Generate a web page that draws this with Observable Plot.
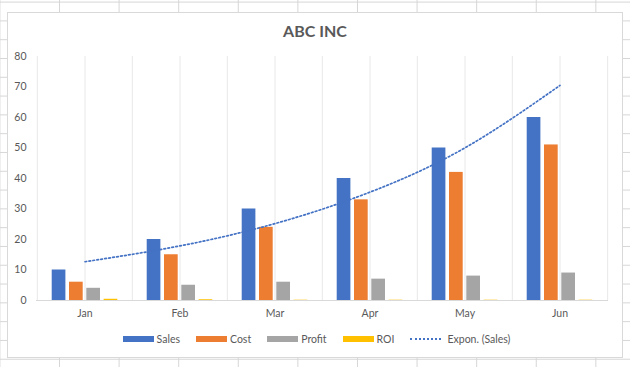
<!DOCTYPE html>
<html>
<head>
<meta charset="utf-8">
<script src="https://cdn.jsdelivr.net/npm/d3@7"></script>
<script src="https://cdn.jsdelivr.net/npm/@observablehq/plot@0.6"></script>
<style>
  html, body { margin: 0; padding: 0; background: #fff; }
  #sheet {
    position: relative; width: 630px; height: 367px; overflow: hidden;
    background-color: #fff;
    background-image:
      linear-gradient(to right, #d6d6d6 1px, transparent 1px),
      linear-gradient(to bottom, #d6d6d6 1px, transparent 1px);
    background-size: 59.6px 18.8px;
    background-position: 59px 1.6px;
    font-family: Lato, "Open Sans", sans-serif;
  }
  #box {
    position: absolute; left: 7px; top: 12px; width: 614px; height: 344px;
    border: 1px solid #d9d9d9; background: #fff;
  }
  #title {
    position: absolute; left: 0; top: 21px; width: 630px; text-align: center;
    font: bold 16px Lato, sans-serif; color: #595959;
  }
  #chart { position: absolute; left: 0; top: 40px; }
  #legend {
    position: absolute; left: 0; top: 333px; width: 630px;
    display: flex; justify-content: center; align-items: center;
    font: 10.5px Lato, sans-serif; color: #595959; padding-left: 3px; box-sizing: border-box;
  }
  .item { display: flex; align-items: center; margin-right: 16px; }
  .item:last-child { margin-right: 0; }
  .sw { width: 31px; height: 6px; margin-right: 3px; }
  .dot { width: 31px; height: 0; border-top: 2px dotted #4472C4; margin-right: 6px; }
</style>
</head>
<body>
<div id="sheet">
  <div id="box"></div>
  <div id="title">ABC INC</div>
  <div id="chart"></div>
  <div id="legend"></div>
</div>
<script>
const months = ["Jan", "Feb", "Mar", "Apr", "May", "Jun"];
const sales  = [10, 20, 30, 40, 50, 60];
const cost   = [6, 15, 24, 33, 42, 51];
const profit = [4, 5, 6, 7, 8, 9];
const roi    = [0.4, 0.25, 0.1, 0.1, 0.1, 0.1];
const seriesNames  = ["Sales", "Cost", "Profit", "ROI"];
const seriesColors = ["#4472C4", "#ED7D31", "#A5A5A5", "#FFC000"];
const yTicks = [0, 10, 20, 30, 40, 50, 60, 70, 80];
const trendName = "Expon. (Sales)";

const seriesValues = [sales, cost, profit, roi];
const table = [];
seriesNames.forEach((s, si) => months.forEach((m, i) => table.push({series: s, month: m, value: seriesValues[si][i]})));

// exponential trendline fitted to Sales (least squares on ln y)
const xs = months.map((_, i) => i + 1);
const ly = sales.map(v => Math.log(v));
const mx = d3.mean(xs), my = d3.mean(ly);
const b = d3.sum(xs, (x, i) => (x - mx) * (ly[i] - my)) / d3.sum(xs, x => (x - mx) ** 2);
const a = my - b * mx;
const trend = months.map((m, i) => ({month: m, value: Math.exp(a + b * xs[i])}));

const W = 630, H = 290, mL = 36, mR = 22, mT = 16, mB = 30;
const bw = (W - mL - mR) / months.length;
const sub = d3.scaleBand().domain(seriesNames).range([0, bw]).paddingInner(0.19).paddingOuter(0.85);

const grid = "#e8e8e8";
const marks = [
  Plot.ruleX(months, {x: d => d, dx: -bw / 2, y1: 0, y2: 80, stroke: grid}),
  Plot.ruleX([months[months.length - 1]], {x: d => d, dx: bw / 2, y1: 0, y2: 80, stroke: grid}),
  Plot.ruleX(months, {x: d => d, y1: 0, y2: 80, stroke: grid}),
];
seriesNames.forEach((s, si) => {
  marks.push(Plot.barY(table.filter(d => d.series === s), {
    x: "month", y: "value", fill: seriesColors[si],
    insetLeft: sub(s), insetRight: bw - sub(s) - sub.bandwidth()
  }));
});
marks.push(Plot.ruleY([0], {stroke: "#d9d9d9"}));
marks.push(Plot.line(trend, {x: "month", y: "value", curve: "natural", stroke: "#4472C4", strokeWidth: 1.7, strokeDasharray: "1.7,2.3"}));

const chart = Plot.plot({
  width: W, height: H,
  marginLeft: mL, marginRight: mR, marginTop: mT, marginBottom: mB,
  style: {fontFamily: "Lato, sans-serif", fontSize: "10.5px", color: "#595959", background: "transparent", overflow: "visible"},
  x: {type: "band", domain: months, padding: 0, label: null, tickSize: 0, tickPadding: 9},
  y: {domain: [0, 80], ticks: yTicks, label: null, tickSize: 0, tickPadding: 10},
  marks
});
document.getElementById("chart").appendChild(chart);

const legend = document.getElementById("legend");
seriesNames.forEach((s, i) => {
  const it = document.createElement("div"); it.className = "item";
  const sw = document.createElement("div"); sw.className = "sw"; sw.style.background = seriesColors[i];
  const t = document.createElement("span"); t.textContent = s;
  it.append(sw, t); legend.append(it);
});
{
  const it = document.createElement("div"); it.className = "item";
  const sw = document.createElement("div"); sw.className = "dot";
  const t = document.createElement("span"); t.textContent = trendName;
  it.append(sw, t); legend.append(it);
}
</script>
</body>
</html>
